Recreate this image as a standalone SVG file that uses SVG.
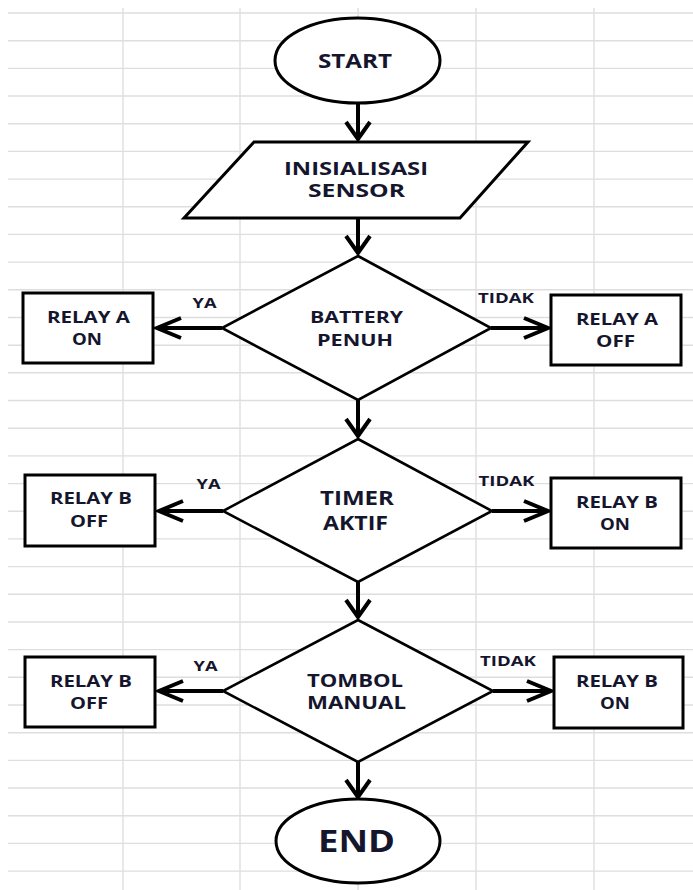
<svg xmlns="http://www.w3.org/2000/svg" width="693" height="890" viewBox="0 0 693 890">
<style>
.grid line{stroke:#dedede;stroke-width:1.4}
.shape{fill:#fff;stroke:#000;stroke-width:3}
.dia{fill:#fff;stroke:#000;stroke-width:2.6}
.conn{stroke:#000;stroke-width:4;fill:none}
text{font-family:"Open Sans","Liberation Sans",sans-serif;font-weight:bold;fill:#15152e;text-anchor:middle}
.t20{font-size:20px}
.t17{font-size:17.5px}
.t16{font-size:16px}
.t14{font-size:14px}
.t31{font-size:31px}
</style>
<defs>
<marker id="ah" markerUnits="userSpaceOnUse" viewBox="-26 -13 30 26" refX="0" refY="0" markerWidth="30" markerHeight="26" orient="auto">
<path d="M-24,-10 L0,0 L-24,10" fill="none" stroke="#000" stroke-width="4" stroke-linejoin="miter"/>
</marker>
<marker id="av" markerUnits="userSpaceOnUse" viewBox="-22 -15 26 30" refX="0" refY="0" markerWidth="26" markerHeight="30" orient="auto">
<path d="M-17,-12 L0,0 L-17,12" fill="none" stroke="#000" stroke-width="4" stroke-linejoin="miter"/>
</marker>
</defs>
<rect width="693" height="890" fill="#fff"/>
<g class="grid">
<line x1="8" y1="13" x2="693" y2="13"/><line x1="8" y1="40.7" x2="693" y2="40.7"/><line x1="8" y1="68.4" x2="693" y2="68.4"/><line x1="8" y1="96" x2="693" y2="96"/><line x1="8" y1="123.7" x2="693" y2="123.7"/><line x1="8" y1="151.4" x2="693" y2="151.4"/><line x1="8" y1="179.1" x2="693" y2="179.1"/><line x1="8" y1="206.8" x2="693" y2="206.8"/><line x1="8" y1="234.4" x2="693" y2="234.4"/><line x1="8" y1="262.1" x2="693" y2="262.1"/><line x1="8" y1="289.8" x2="693" y2="289.8"/><line x1="8" y1="317.5" x2="693" y2="317.5"/><line x1="8" y1="345.2" x2="693" y2="345.2"/><line x1="8" y1="372.8" x2="693" y2="372.8"/><line x1="8" y1="400.5" x2="693" y2="400.5"/><line x1="8" y1="428.2" x2="693" y2="428.2"/><line x1="8" y1="455.9" x2="693" y2="455.9"/><line x1="8" y1="483.6" x2="693" y2="483.6"/><line x1="8" y1="511.2" x2="693" y2="511.2"/><line x1="8" y1="538.9" x2="693" y2="538.9"/><line x1="8" y1="566.6" x2="693" y2="566.6"/><line x1="8" y1="594.3" x2="693" y2="594.3"/><line x1="8" y1="622" x2="693" y2="622"/><line x1="8" y1="649.6" x2="693" y2="649.6"/><line x1="8" y1="677.3" x2="693" y2="677.3"/><line x1="8" y1="705" x2="693" y2="705"/><line x1="8" y1="732.7" x2="693" y2="732.7"/><line x1="8" y1="760.4" x2="693" y2="760.4"/><line x1="8" y1="788" x2="693" y2="788"/><line x1="8" y1="815.7" x2="693" y2="815.7"/><line x1="8" y1="843.4" x2="693" y2="843.4"/><line x1="8" y1="871.1" x2="693" y2="871.1"/>
<line x1="123" y1="8" x2="123" y2="890"/><line x1="240" y1="8" x2="240" y2="890"/><line x1="358" y1="8" x2="358" y2="890"/><line x1="476" y1="8" x2="476" y2="890"/><line x1="594" y1="8" x2="594" y2="890"/>
</g>
<g id="connectors">
<line class="conn" x1="358" y1="103" x2="358" y2="139" marker-end="url(#av)"/>
<line class="conn" x1="358" y1="218" x2="358" y2="253" marker-end="url(#av)"/>
<line class="conn" x1="222" y1="328" x2="157" y2="328" marker-end="url(#ah)"/>
<line class="conn" x1="491" y1="328" x2="548" y2="328" marker-end="url(#ah)"/>
<line class="conn" x1="358" y1="400" x2="358" y2="436" marker-end="url(#av)"/>
<line class="conn" x1="223" y1="511" x2="159" y2="511" marker-end="url(#ah)"/>
<line class="conn" x1="492" y1="511" x2="548" y2="511" marker-end="url(#ah)"/>
<line class="conn" x1="358" y1="582" x2="358" y2="617" marker-end="url(#av)"/>
<line class="conn" x1="223" y1="691" x2="159" y2="691" marker-end="url(#ah)"/>
<line class="conn" x1="493" y1="691" x2="551" y2="691" marker-end="url(#ah)"/>
<line class="conn" x1="358" y1="762" x2="358" y2="797" marker-end="url(#av)"/>
<text class="t14" x="204.5" y="308" textLength="24" lengthAdjust="spacingAndGlyphs">YA</text>
<text class="t14" x="506" y="303" textLength="56" lengthAdjust="spacingAndGlyphs">TIDAK</text>
<text class="t14" x="208.5" y="489" textLength="24" lengthAdjust="spacingAndGlyphs">YA</text>
<text class="t14" x="506.5" y="486" textLength="56" lengthAdjust="spacingAndGlyphs">TIDAK</text>
<text class="t14" x="205.5" y="671" textLength="24" lengthAdjust="spacingAndGlyphs">YA</text>
<text class="t14" x="508" y="666" textLength="56" lengthAdjust="spacingAndGlyphs">TIDAK</text>
</g>
<g id="start">
<ellipse class="shape" cx="357.5" cy="60.5" rx="82.5" ry="42.5"/>
<text class="t20" x="355" y="68" textLength="74" lengthAdjust="spacingAndGlyphs">START</text>
</g>
<g id="init">
<polygon class="shape" points="254,142 528,142 460,218 184,218"/>
<text class="t17" x="356" y="175" textLength="144" lengthAdjust="spacingAndGlyphs">INISIALISASI</text>
<text class="t17" x="356.5" y="197" textLength="97" lengthAdjust="spacingAndGlyphs">SENSOR</text>
</g>
<g id="battery">
<polygon class="dia" points="358,256 491,328 358,400 222,328"/>
<text class="t16" x="356.5" y="323" textLength="93" lengthAdjust="spacingAndGlyphs">BATTERY</text>
<text class="t16" x="355" y="346" textLength="76" lengthAdjust="spacingAndGlyphs">PENUH</text>
</g>
<g id="relayAon">
<rect class="shape" x="23" y="293" width="130" height="70"/>
<text class="t16" x="88.5" y="323" textLength="83" lengthAdjust="spacingAndGlyphs">RELAY A</text>
<text class="t16" x="87" y="345" textLength="30" lengthAdjust="spacingAndGlyphs">ON</text>
</g>
<g id="relayAoff">
<rect class="shape" x="551" y="295" width="130" height="70"/>
<text class="t16" x="617" y="325" textLength="82" lengthAdjust="spacingAndGlyphs">RELAY A</text>
<text class="t16" x="615.5" y="347" textLength="39" lengthAdjust="spacingAndGlyphs">OFF</text>
</g>
<g id="timer">
<polygon class="dia" points="358,439 492,511 358,582 223,511"/>
<text class="t20" x="357" y="505" textLength="74" lengthAdjust="spacingAndGlyphs">TIMER</text>
<text class="t20" x="355.5" y="530" textLength="65" lengthAdjust="spacingAndGlyphs">AKTIF</text>
</g>
<g id="relayBoff1">
<rect class="shape" x="25" y="475" width="130" height="71"/>
<text class="t16" x="91" y="504" textLength="82" lengthAdjust="spacingAndGlyphs">RELAY B</text>
<text class="t16" x="89" y="527" textLength="38" lengthAdjust="spacingAndGlyphs">OFF</text>
</g>
<g id="relayBon1">
<rect class="shape" x="551" y="478" width="130" height="70"/>
<text class="t16" x="617" y="508" textLength="82" lengthAdjust="spacingAndGlyphs">RELAY B</text>
<text class="t16" x="615" y="530" textLength="30" lengthAdjust="spacingAndGlyphs">ON</text>
</g>
<g id="tombol">
<polygon class="dia" points="358,620 493,691 358,762 223,691"/>
<text class="t17" x="355" y="687" textLength="96" lengthAdjust="spacingAndGlyphs">TOMBOL</text>
<text class="t17" x="356.5" y="709" textLength="99" lengthAdjust="spacingAndGlyphs">MANUAL</text>
</g>
<g id="relayBoff2">
<rect class="shape" x="25" y="657" width="130" height="70"/>
<text class="t16" x="91" y="687" textLength="82" lengthAdjust="spacingAndGlyphs">RELAY B</text>
<text class="t16" x="89" y="709" textLength="38" lengthAdjust="spacingAndGlyphs">OFF</text>
</g>
<g id="relayBon2">
<rect class="shape" x="554" y="657" width="129" height="71"/>
<text class="t16" x="617" y="687" textLength="82" lengthAdjust="spacingAndGlyphs">RELAY B</text>
<text class="t16" x="615" y="709" textLength="30" lengthAdjust="spacingAndGlyphs">ON</text>
</g>
<g id="end">
<ellipse class="shape" cx="358" cy="841" rx="82" ry="42"/>
<text class="t31" x="356.5" y="852" textLength="77" lengthAdjust="spacingAndGlyphs">END</text>
</g>
</svg>
